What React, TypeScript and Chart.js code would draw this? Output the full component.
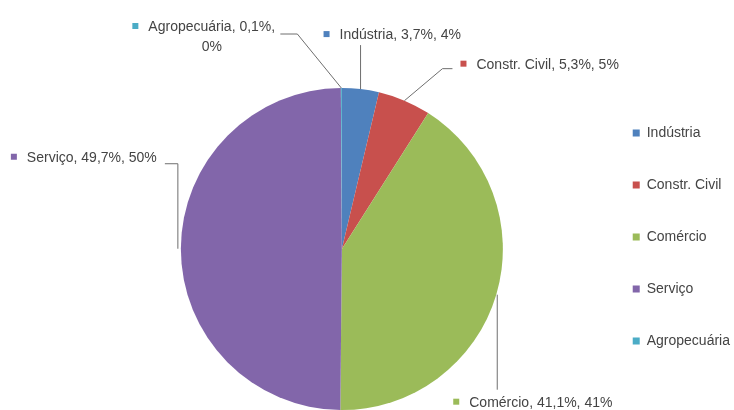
import React, { useEffect, useRef } from "react";
import { Chart, registerables } from "chart.js";

Chart.register(...registerables);

const categories = ["Indústria", "Constr. Civil", "Comércio", "Serviço", "Agropecuária"];
const shares = [3.7, 5.3, 41.1, 49.7, 0.1];
const colors = ["#4F81BD", "#C8504D", "#9BBB59", "#8266AA", "#4BACC6"];

const FONT = "14px 'Liberation Sans', Arial, sans-serif";
const TEXT_COLOR = "#444444";

// label placement, as offsets from each slice's outer mid-point
const labelLayout = [
  { m: [-34, -55], leader: [[0, 0], [0, -44]], wrap: false },
  { m: [59, -37], leader: [[0, 0], [38, -32], [48, -32]], wrap: false },
  { m: [-40, 107], leader: [[1, 0], [1, 95]], wrap: false },
  { m: [-167, -92], leader: [[-3, 0], [-3, -85], [-16, -85]], wrap: false },
  { m: [-206, -62], leader: [[0, 0], [-44, -54], [-61, -54]], wrap: true },
];

const fmt = (v: number) => v.toFixed(1).replace(".", ",");

const labelPlugin = {
  id: "pieLabels",
  afterDatasetsDraw(chart: any) {
    const ctx = chart.ctx as CanvasRenderingContext2D;
    const meta = chart.getDatasetMeta(0);
    const values = chart.data.datasets[0].data as number[];
    const labels = chart.data.labels as string[];
    ctx.save();
    meta.data.forEach((arc: any, i: number) => {
      const p = arc.getProps(["x", "y", "startAngle", "endAngle", "outerRadius"], true);
      const mid = (p.startAngle + p.endAngle) / 2;
      const ex = p.x + Math.cos(mid) * p.outerRadius;
      const ey = p.y + Math.sin(mid) * p.outerRadius;
      const lay = labelLayout[i];
      // leader line
      ctx.strokeStyle = "#6e6e6e";
      ctx.lineWidth = 1;
      ctx.beginPath();
      lay.leader.forEach((pt, k) => {
        const px = ex + pt[0];
        const py = ey + pt[1];
        if (k === 0) ctx.moveTo(px, py);
        else ctx.lineTo(px, py);
      });
      ctx.stroke();
      // marker
      const mx = ex + lay.m[0];
      const my = ey + lay.m[1];
      ctx.fillStyle = colors[i];
      ctx.fillRect(mx - 3, my - 3, 6, 6);
      // text
      const v = values[i];
      ctx.font = FONT;
      ctx.fillStyle = TEXT_COLOR;
      ctx.textBaseline = "middle";
      ctx.textAlign = "left";
      const tx = mx + 13;
      if (lay.wrap) {
        const l1 = `${labels[i]}, ${fmt(v)}%,`;
        const l2 = `${Math.round(v)}%`;
        ctx.fillText(l1, tx, my + 1);
        const w1 = ctx.measureText(l1).width;
        ctx.textAlign = "center";
        ctx.fillText(l2, tx + w1 / 2, my + 21);
      } else {
        ctx.fillText(`${labels[i]}, ${fmt(v)}%, ${Math.round(v)}%`, tx, my + 1);
      }
    });
    ctx.restore();
  },
};

export default function App() {
  const ref = useRef<HTMLCanvasElement | null>(null);
  useEffect(() => {
    document.body.style.margin = "0";
    if (!ref.current) return;
    const chart = new Chart(ref.current, {
      type: "pie",
      data: {
        labels: categories,
        datasets: [
          {
            data: shares,
            backgroundColor: colors,
            borderWidth: 0,
            radius: 161,
          },
        ],
      },
      options: {
        animation: false,
        responsive: true,
        maintainAspectRatio: false,
        layout: { padding: { top: 88, bottom: -2, left: 89, right: -6 } },
        plugins: {
          tooltip: { enabled: false },
          legend: {
            position: "right",
            align: "start",
            labels: {
              boxWidth: 7,
              boxHeight: 7,
              padding: 38,
              color: TEXT_COLOR,
              font: { family: "'Liberation Sans', Arial, sans-serif", size: 14 },
            },
          },
        },
      },
      plugins: [labelPlugin],
    });
    return () => chart.destroy();
  }, []);
  return (
    <div style={{ position: "fixed", left: 0, top: 0, width: 734, height: 410, background: "#fff" }}>
      <canvas ref={ref} />
    </div>
  );
}
